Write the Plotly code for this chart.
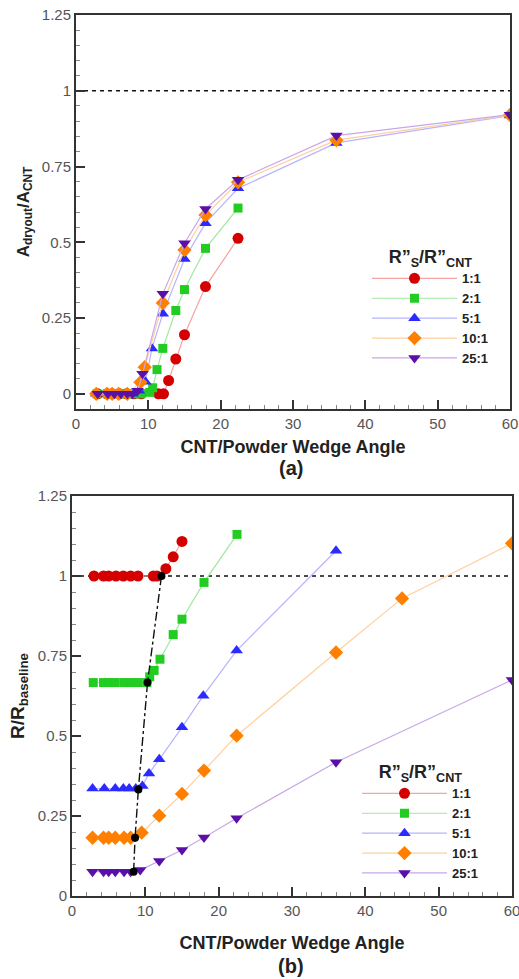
import plotly.graph_objects as go

# ---------------- data: panel (a) ----------------
a_angle_11 = [3, 4.3, 5, 6, 7, 8, 9, 11.4, 12.1, 12.8, 13.8, 15, 17.9, 22.4]
a_val_11 = [0, 0, 0, 0, 0, 0, 0, 0, 0, 0.044, 0.115, 0.195, 0.354, 0.513]
a_angle_21 = [2.9, 4.3, 5, 5.9, 7.1, 8, 9, 10.2, 10.6, 11.2, 12, 13.8, 15, 17.9, 22.4]
a_val_21 = [0, 0, 0, 0, 0, 0, 0, 0.005, 0.02, 0.08, 0.15, 0.275, 0.344, 0.48, 0.613]
a_angle_51 = [2.8, 4.4, 5.9, 7, 7.8, 8.7, 9.6, 10.5, 12, 15, 17.9, 22.4, 36, 60]
a_val_51 = [0, 0, 0, 0, 0, 0.01, 0.04, 0.15, 0.264, 0.445, 0.563, 0.678, 0.828, 0.918]
a_angle_101 = [2.8, 4.3, 5, 5.9, 7.1, 8.9, 9.5, 12, 15, 17.9, 22.4, 36, 60]
a_val_101 = [0, 0, 0, 0, 0, 0.038, 0.088, 0.3, 0.475, 0.59, 0.698, 0.837, 0.92]
a_angle_251 = [3, 4.4, 5.3, 6.2, 7.1, 7.8, 8.5, 9.2, 12, 15, 17.9, 22.4, 36, 60]
a_val_251 = [0, 0, 0, 0, 0, 0, 0.01, 0.066, 0.33, 0.497, 0.61, 0.706, 0.852, 0.921]

# ---------------- data: panel (b) ----------------
b_angle_11 = [3, 4.3, 5, 6, 7, 8, 9, 11.1, 11.6, 12.8, 13.8, 15]
b_val_11 = [1, 1, 1, 1, 1, 1, 1, 1, 1, 1.023, 1.06, 1.108]
b_angle_21 = [2.9, 4.3, 5, 5.9, 7.1, 8, 9, 10.2, 10.6, 11.2, 12, 13.8, 15, 18, 22.5]
b_val_21 = [0.667, 0.667, 0.667, 0.667, 0.667, 0.667, 0.667, 0.667, 0.685, 0.705, 0.74, 0.817, 0.865, 0.98, 1.13]
b_angle_51 = [2.8, 4.4, 5.9, 7, 7.8, 8.7, 9.6, 10.5, 11.9, 15, 17.9, 22.45, 36]
b_val_51 = [0.336, 0.336, 0.336, 0.336, 0.336, 0.336, 0.344, 0.383, 0.427, 0.527, 0.626, 0.767, 1.079]
b_angle_101 = [2.8, 4.3, 5, 5.9, 7.1, 8, 9.5, 11.9, 15, 18, 22.45, 36, 45, 60]
b_val_101 = [0.182, 0.182, 0.182, 0.182, 0.182, 0.182, 0.198, 0.251, 0.319, 0.392, 0.501, 0.761, 0.93, 1.102]
b_angle_251 = [2.8, 4.3, 5, 5.9, 7.1, 8, 9.3, 11.9, 15, 18, 22.45, 36, 60]
b_val_251 = [0.076, 0.076, 0.076, 0.076, 0.076, 0.076, 0.081, 0.109, 0.144, 0.183, 0.243, 0.418, 0.675]
trans_angle = [8.4, 8.6, 9.05, 10.3, 12.2]
trans_val = [0.076, 0.182, 0.333, 0.667, 1.0]

ratio_labels = ["1:1", "2:1", "5:1", "10:1", "25:1"]
marker_colors = ["#d40000", "#22cc22", "#2b2bff", "#ff8000", "#5a10a8"]
line_colors = ["#f5a3a3", "#9fe89f", "#b5b5ff", "#ffcf9e", "#c7a8e8"]
symbols = ["circle", "square", "triangle-up", "diamond", "triangle-down"]
sizes = [11, 9, 11, 11, 11]

a_series = [(a_angle_11, a_val_11), (a_angle_21, a_val_21), (a_angle_51, a_val_51),
            (a_angle_101, a_val_101), (a_angle_251, a_val_251)]
b_series = [(b_angle_11, b_val_11), (b_angle_21, b_val_21), (b_angle_51, b_val_51),
            (b_angle_101, b_val_101), (b_angle_251, b_val_251)]

FONT = "Liberation Sans, Arial, Helvetica, sans-serif"
fig = go.Figure()

for i, (xs, ys) in enumerate(a_series):
    fig.add_trace(go.Scatter(
        x=xs, y=ys, mode="lines+markers", name=ratio_labels[i],
        line=dict(color=line_colors[i], width=1.2),
        marker=dict(symbol=symbols[i], size=sizes[i], color=marker_colors[i]),
        xaxis="x", yaxis="y", legend="legend"))

for i, (xs, ys) in enumerate(b_series):
    fig.add_trace(go.Scatter(
        x=xs, y=ys, mode="lines+markers", name=ratio_labels[i],
        line=dict(color=line_colors[i], width=1.2),
        marker=dict(symbol=symbols[i], size=sizes[i], color=marker_colors[i]),
        xaxis="x2", yaxis="y2", legend="legend2"))

fig.add_trace(go.Scatter(
    x=trans_angle, y=trans_val, mode="lines+markers", showlegend=False,
    line=dict(color="#111111", width=1.4, dash="dashdot"),
    marker=dict(symbol="circle", size=8, color="#000000"),
    xaxis="x2", yaxis="y2"))

# reference lines at 1
for xr, yr in (("x", "y"), ("x2", "y2")):
    fig.add_shape(type="line", xref=xr + " domain", yref=yr, x0=0, x1=1, y0=1, y1=1,
                  line=dict(color="#111111", width=1.5, dash="4px,4px"), layer="below")

axis_common = dict(
    showline=True, linecolor="#333333", linewidth=2, mirror=True,
    ticks="inside", ticklen=9, tickwidth=2, tickcolor="#333333",
    showgrid=False, zeroline=False, automargin=False, ticklabeloverflow="allow",
    tickfont=dict(family=FONT, size=15, color="#555555"),
)
xminor = dict(ticks="inside", ticklen=4, tickwidth=1, tickcolor="#888888", dtick=2)
yminor = dict(ticks="inside", ticklen=4, tickwidth=1, tickcolor="#888888", dtick=0.05)

xtitle_font = dict(family=FONT, size=18, color="#222222")
legend_font = dict(family=FONT, size=13, color="#222222", weight="bold")
legend_title_font = dict(family=FONT, size=18, color="#222222")

fig.update_layout(
    width=519, height=979,
    margin=dict(l=0, r=0, t=0, b=0),
    paper_bgcolor="white", plot_bgcolor="white",
    font=dict(family=FONT),
    xaxis=dict(axis_common, domain=[76/519, 510/519], range=[0, 60], tick0=0, dtick=10,
               minor=xminor, anchor="y",
               title=dict(text="<b>CNT/Powder Wedge Angle</b>", font=xtitle_font, standoff=9)),
    yaxis=dict(axis_common, domain=[(979-409)/979, (979-15)/979], range=[-0.05, 1.25],
               tick0=0, dtick=0.25, minor=yminor, anchor="x",
               title=dict(text="<b>A<sub>dryout</sub>/A<sub>CNT</sub></b>",
                          font=dict(family=FONT, size=17, color="#222222"), standoff=8)),
    xaxis2=dict(axis_common, domain=[72/519, 512/519], range=[0, 60], tick0=0, dtick=10,
                minor=xminor, anchor="y2",
                title=dict(text="<b>CNT/Powder Wedge Angle</b>", font=xtitle_font, standoff=18)),
    yaxis2=dict(axis_common, domain=[(979-896)/979, (979-496)/979], range=[0, 1.25],
                tick0=0, dtick=0.25, minor=yminor, anchor="x2",
                title=dict(text="<b>R/R<sub>baseline</sub></b>",
                           font=dict(family=FONT, size=19, color="#222222"), standoff=8)),
    legend=dict(x=367/519, y=(979-240)/979, xanchor="left", yanchor="top",
                bgcolor="rgba(0,0,0,0)", itemwidth=85,
                font=legend_font,
                title=dict(text="<b>R”<sub>S</sub>/R”<sub>CNT</sub></b>", side="top center",
                           font=legend_title_font)),
    legend2=dict(x=357/519, y=(979-755)/979, xanchor="left", yanchor="top",
                 bgcolor="rgba(0,0,0,0)", itemwidth=85,
                 font=legend_font,
                 title=dict(text="<b>R”<sub>S</sub>/R”<sub>CNT</sub></b>", side="top center",
                            font=legend_title_font)),
    annotations=[
        dict(text="<b>(a)</b>", x=0.56, y=(979-468)/979, xref="paper", yref="paper",
             xanchor="center", yanchor="middle",
             showarrow=False, font=dict(family=FONT, size=20, color="#222222")),
        dict(text="<b>(b)</b>", x=0.56, y=(979-966)/979, xref="paper", yref="paper",
             xanchor="center", yanchor="middle",
             showarrow=False, font=dict(family=FONT, size=20, color="#222222")),
    ],
)

fig.write_html("out.html", config={"displayModeBar": False},
               post_script="document.body.style.margin='0px';")
